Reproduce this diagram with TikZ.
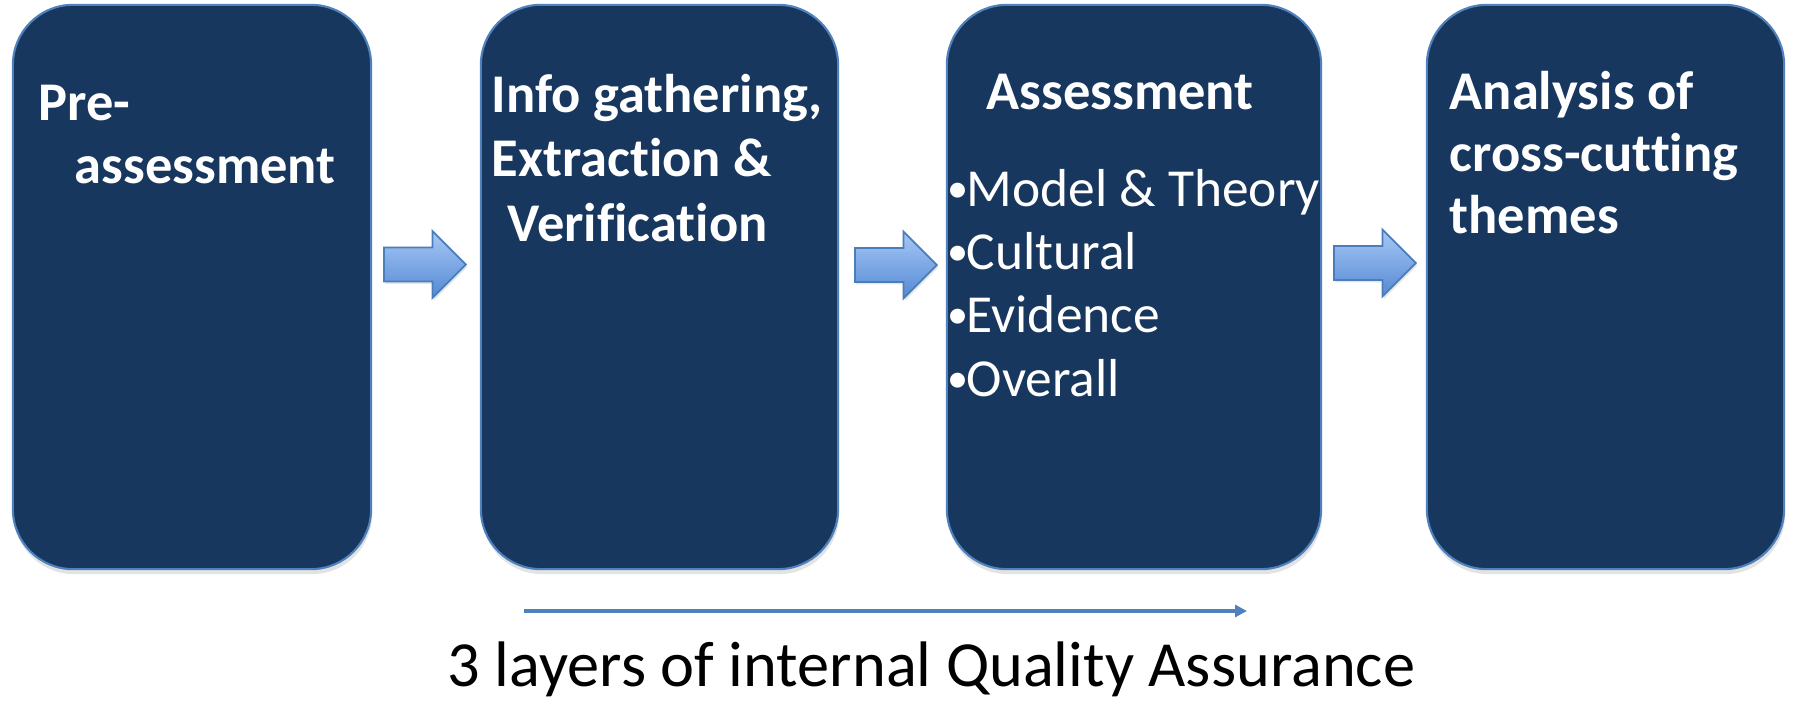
\documentclass[tikz,border=0pt]{standalone}
\usepackage{fontspec}
\setmainfont{Carlito}[Ligatures=NoCommon]
\usetikzlibrary{positioning,shapes.arrows,shadows,arrows.meta}

\definecolor{stagefill}{RGB}{23,55,94}
\definecolor{stageedge}{RGB}{79,129,189}
\definecolor{arrowtop}{RGB}{168,200,245}
\definecolor{arrowbot}{RGB}{84,137,212}
\definecolor{arrowedge}{RGB}{74,126,187}

\newcommand{\itembullet}{\makebox[0.19cm][l]{\raisebox{0.04cm}{\fontsize{12}{12}\selectfont •}}}

\tikzset{
  stage/.style={draw=stageedge, line width=0.6pt, fill=stagefill,
    rounded corners=0.6cm, minimum height=5.64cm, minimum width=3.58cm, inner sep=0pt,
    drop shadow={shadow xshift=0.01cm, shadow yshift=-0.05cm, opacity=0.22}},
  stagetext/.style={anchor=base west, inner sep=0pt, text=white,
    font=\fontsize{15.5}{18}\selectfont\bfseries},
  itemtext/.style={anchor=base west, inner sep=0pt, text=white,
    font=\fontsize{15.2}{18}\selectfont},
  blockarrow/.style={shape=single arrow, draw=arrowedge, line width=0.5pt,
    top color=arrowtop, bottom color=arrowbot, inner sep=0pt, inner ysep=0.16cm,
    single arrow head extend=0.165cm, minimum height=0.82cm, anchor=tail,
    drop shadow={shadow xshift=0.015cm, shadow yshift=-0.025cm, opacity=0.2}},
  qaline/.style={draw=stageedge, line width=1.2pt, -{Triangle[length=0.12cm, width=0.12cm]}}
}

\begin{document}
\begin{tikzpicture}[x=0.01cm, y=-0.01cm]
  \useasboundingbox (0,0) rectangle (1793,707);

  % the four stages
  \node[stage] (pre) at (192,287) {};
  \node[stage, minimum width=3.57cm] (info) at (659.5,287) {};
  \node[stage, minimum width=3.74cm] (assess) at (1134,287) {};
  \node[stage, minimum width=3.57cm] (themes) at (1605.5,287) {};

  % block arrows between them
  \node[blockarrow] (step1) at (383,264.5) {};
  \node[blockarrow] (step2) at (854,265) {};
  \node[blockarrow] (step3) at (1333,263) {};

  % stage titles
  \node[stagetext] (pre1) at (38,121) {Pre-};
  \node[stagetext] (pre2) at (74,184) {assessment};

  \node[stagetext] (info1) at (491,113) {Info gathering,};
  \node[stagetext] (info2) at (491,177) {Extraction \&};
  \node[stagetext] (info3) at (507,242) {Verification};

  \node[stagetext] (assess0) at (986,110) {Assessment};
  \node[itemtext] (assess1) at (947,207) {\itembullet Model \& Theory};
  \node[itemtext] (assess2) at (947,270) {\itembullet Cultural};
  \node[itemtext] (assess3) at (947,333) {\itembullet Evidence};
  \node[itemtext] (assess4) at (947,397) {\itembullet Overall};

  \node[stagetext] (themes1) at (1449,110) {Analysis of};
  \node[stagetext] (themes2) at (1449,172) {cross-cutting};
  \node[stagetext] (themes3) at (1449,234) {themes};

  % quality assurance span
  \coordinate (qastart) at (524,611);
  \coordinate (qaend) at (1247,611);
  \draw[qaline] (qastart) -- (qaend);
  \node[anchor=base, inner sep=0pt, font=\fontsize{18.3}{22}\selectfont] (qa) at (931.5,687)
    {3 layers of internal Quality Assurance};
\end{tikzpicture}
\end{document}
